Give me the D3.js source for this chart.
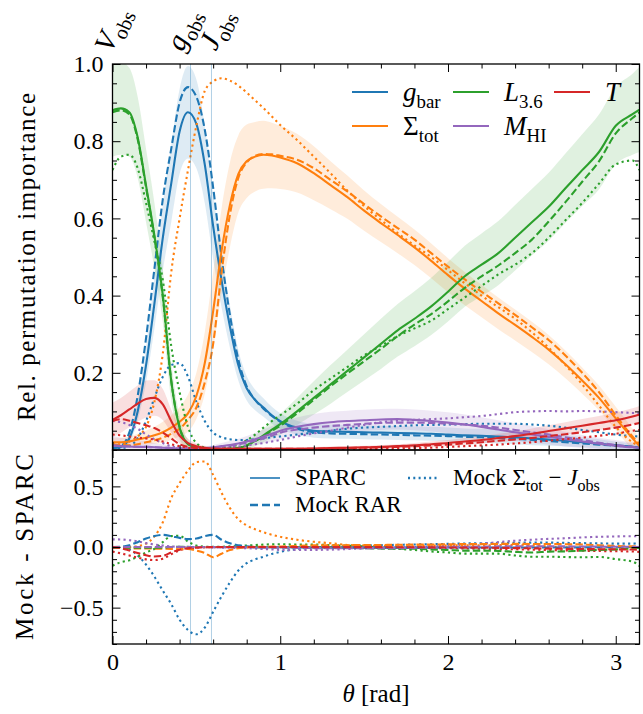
<!DOCTYPE html>
<html><head><meta charset="utf-8">
<script src="https://cdn.jsdelivr.net/npm/d3@7"></script>
<style>
body{margin:0;background:#fff;}
svg{display:block;font-family:"Liberation Serif","DejaVu Serif",serif;}
</style></head><body>
<svg id="chart" width="643" height="714"></svg>
<script>
// ---------------- data ----------------
const theta = [0,0.05,0.1,0.15,0.2,0.25,0.3,0.35,0.4,0.45,0.5,0.55,0.6,0.65,0.7,0.75,0.8,0.85,0.9,0.95,1.0,
  1.1,1.2,1.3,1.4,1.5,1.6,1.7,1.8,1.9,2.0,2.1,2.2,2.3,2.4,2.5,2.6,2.7,2.8,2.9,3.0,3.1,3.1416];

const gbarSparc = [0.005,0.008,0.03,0.1,0.22,0.38,0.55,0.69,0.825,0.875,0.845,0.74,0.58,0.44,0.32,0.22,0.16,0.13,0.11,0.09,0.075,
  0.058,0.05,0.048,0.047,0.046,0.045,0.044,0.043,0.042,0.04,0.038,0.037,0.035,0.033,0.03,0.027,0.024,0.02,0.016,0.012,0.008,0.006];
const gbarRAR = [0.005,0.01,0.045,0.14,0.29,0.47,0.65,0.78,0.9,0.94,0.915,0.83,0.68,0.5,0.35,0.235,0.165,0.13,0.107,0.088,0.073,
  0.055,0.046,0.043,0.042,0.041,0.04,0.039,0.038,0.037,0.036,0.034,0.033,0.031,0.029,0.026,0.023,0.02,0.017,0.014,0.011,0.008,0.006];
const gbarMock = [0.005,0.005,0.01,0.03,0.075,0.135,0.19,0.22,0.225,0.19,0.125,0.075,0.045,0.033,0.028,0.026,0.026,0.028,0.03,0.033,0.035,
  0.04,0.045,0.05,0.055,0.058,0.06,0.062,0.064,0.065,0.066,0.067,0.068,0.068,0.068,0.066,0.063,0.058,0.052,0.046,0.04,0.036,0.035];
const gbarErr = [0.004,0.006,0.012,0.025,0.045,0.065,0.085,0.1,0.11,0.12,0.115,0.1,0.085,0.07,0.055,0.04,0.032,0.027,0.024,0.022,0.02,
  0.018,0.018,0.018,0.018,0.018,0.018,0.018,0.018,0.018,0.018,0.018,0.018,0.018,0.018,0.018,0.016,0.015,0.013,0.012,0.01,0.008,0.007];

const sigmaSparc = [0.02,0.02,0.022,0.027,0.032,0.038,0.046,0.058,0.073,0.095,0.14,0.225,0.36,0.515,0.635,0.715,0.748,0.76,0.765,0.763,0.758,
  0.743,0.717,0.686,0.655,0.62,0.588,0.557,0.525,0.49,0.453,0.418,0.386,0.354,0.324,0.293,0.26,0.222,0.18,0.135,0.082,0.03,0.01];
const sigmaRAR = [0.015,0.013,0.012,0.015,0.02,0.025,0.032,0.042,0.055,0.078,0.11,0.175,0.275,0.46,0.61,0.705,0.745,0.762,0.767,0.766,0.762,
  0.752,0.73,0.7,0.67,0.637,0.605,0.575,0.545,0.51,0.475,0.442,0.41,0.38,0.35,0.318,0.285,0.245,0.2,0.15,0.09,0.035,0.015];
const sigmaMock = [0.015,0.015,0.022,0.035,0.06,0.125,0.25,0.46,0.6,0.725,0.84,0.93,0.955,0.963,0.957,0.944,0.926,0.906,0.886,0.864,0.842,
  0.803,0.76,0.717,0.672,0.632,0.596,0.562,0.53,0.5,0.466,0.432,0.4,0.37,0.34,0.305,0.265,0.22,0.17,0.115,0.06,0.02,0.01];
const sigmaErr = [0.012,0.012,0.013,0.015,0.018,0.022,0.027,0.032,0.038,0.048,0.06,0.08,0.1,0.11,0.11,0.1,0.095,0.09,0.088,0.085,0.082,
  0.076,0.07,0.062,0.056,0.052,0.049,0.047,0.046,0.045,0.044,0.043,0.042,0.041,0.04,0.039,0.038,0.036,0.034,0.032,0.03,0.025,0.02];

const lumSparc = [0.88,0.885,0.875,0.81,0.685,0.555,0.4,0.18,0.058,0.015,0.006,0.003,0.002,0.002,0.003,0.005,0.012,0.024,0.038,0.053,0.067,
  0.1,0.135,0.17,0.205,0.24,0.275,0.31,0.34,0.372,0.41,0.45,0.48,0.51,0.55,0.59,0.63,0.678,0.725,0.772,0.84,0.87,0.882];
const lumRAR = [0.875,0.88,0.87,0.805,0.68,0.55,0.395,0.18,0.06,0.016,0.006,0.003,0.002,0.002,0.003,0.005,0.012,0.023,0.036,0.05,0.063,
  0.095,0.13,0.165,0.198,0.23,0.262,0.295,0.325,0.352,0.385,0.42,0.45,0.478,0.51,0.545,0.592,0.642,0.695,0.748,0.82,0.86,0.875];
const lumMock = [0.725,0.76,0.765,0.73,0.64,0.54,0.44,0.27,0.15,0.06,0.018,0.006,0.003,0.004,0.008,0.014,0.025,0.04,0.058,0.075,0.09,
  0.12,0.155,0.185,0.215,0.245,0.27,0.295,0.315,0.335,0.365,0.395,0.425,0.455,0.48,0.51,0.55,0.595,0.64,0.69,0.74,0.75,0.725];
const lumErr = [0.12,0.12,0.115,0.105,0.095,0.085,0.07,0.05,0.03,0.012,0.005,0.003,0.003,0.003,0.004,0.006,0.01,0.014,0.018,0.022,0.027,
  0.035,0.043,0.05,0.055,0.06,0.065,0.068,0.071,0.074,0.077,0.079,0.081,0.083,0.085,0.086,0.088,0.09,0.093,0.097,0.1,0.105,0.11];

const himSparc = [0.012,0.01,0.009,0.008,0.008,0.007,0.006,0.005,0.004,0.004,0.004,0.005,0.007,0.01,0.013,0.017,0.022,0.028,0.035,0.042,0.05,
  0.06,0.067,0.072,0.075,0.077,0.079,0.08,0.078,0.075,0.071,0.066,0.06,0.053,0.046,0.04,0.034,0.028,0.022,0.016,0.011,0.007,0.006];
const himRAR = [0.012,0.01,0.009,0.008,0.008,0.007,0.006,0.005,0.004,0.004,0.004,0.005,0.006,0.009,0.011,0.015,0.019,0.024,0.03,0.037,0.045,
  0.053,0.058,0.062,0.065,0.068,0.07,0.071,0.071,0.07,0.068,0.066,0.063,0.058,0.052,0.046,0.04,0.033,0.026,0.019,0.013,0.008,0.006];
const himMock = [0.075,0.072,0.065,0.055,0.04,0.028,0.018,0.01,0.006,0.004,0.003,0.003,0.004,0.005,0.007,0.009,0.012,0.015,0.018,0.022,0.026,
  0.035,0.043,0.05,0.058,0.065,0.072,0.076,0.078,0.08,0.082,0.085,0.088,0.093,0.098,0.1,0.101,0.1,0.101,0.1,0.098,0.096,0.095];
const himErr = [0.025,0.022,0.02,0.017,0.014,0.011,0.008,0.006,0.005,0.004,0.004,0.005,0.006,0.008,0.01,0.012,0.014,0.016,0.018,0.02,0.022,
  0.024,0.026,0.027,0.027,0.027,0.027,0.027,0.027,0.027,0.027,0.026,0.025,0.024,0.023,0.022,0.02,0.019,0.017,0.016,0.015,0.013,0.012];

const tSparc = [0.078,0.09,0.105,0.12,0.132,0.135,0.118,0.075,0.037,0.018,0.01,0.006,0.004,0.003,0.003,0.003,0.003,0.003,0.003,0.003,0.003,
  0.003,0.004,0.005,0.006,0.007,0.008,0.01,0.012,0.015,0.018,0.022,0.026,0.031,0.036,0.042,0.049,0.056,0.063,0.07,0.077,0.087,0.092];
const tRAR = [0.075,0.08,0.076,0.07,0.064,0.057,0.045,0.03,0.015,0.008,0.005,0.004,0.003,0.003,0.003,0.003,0.003,0.003,0.003,0.003,0.003,
  0.003,0.003,0.004,0.005,0.006,0.007,0.008,0.01,0.012,0.014,0.017,0.02,0.024,0.027,0.031,0.036,0.041,0.046,0.052,0.058,0.066,0.07];
const tMock = [0.04,0.038,0.035,0.032,0.03,0.027,0.022,0.015,0.01,0.006,0.004,0.003,0.002,0.002,0.002,0.002,0.002,0.002,0.002,0.002,0.002,
  0.002,0.002,0.002,0.002,0.002,0.003,0.004,0.005,0.006,0.008,0.01,0.012,0.014,0.017,0.02,0.024,0.028,0.032,0.037,0.042,0.05,0.052];
const tErr = [0.045,0.045,0.046,0.047,0.048,0.046,0.04,0.03,0.02,0.012,0.007,0.005,0.004,0.004,0.004,0.004,0.004,0.004,0.004,0.004,0.004,
  0.004,0.004,0.004,0.004,0.004,0.005,0.005,0.006,0.007,0.008,0.009,0.01,0.011,0.012,0.014,0.015,0.016,0.017,0.018,0.02,0.021,0.022];

// reference angles (top axis)
const refAngles = [0, 0.465, 0.59];
const refNames = ["V", "g", "J"];
const xTickVals = [0, 1, 2, 3];
const yTopTicks = [0.2, 0.4, 0.6, 0.8, 1.0];
const yBotTicks = [-0.5, 0, 0.5];

// ---------------- layout ----------------
const svg = d3.select("#chart");
const L = 112.5, R = 639.5, T1 = 64, B1 = 450, B2 = 644;
const x = d3.scaleLinear().domain([0, Math.PI]).range([L, R]);
const yT = d3.scaleLinear().domain([0, 1]).range([B1, T1]);
const yB = d3.scaleLinear().domain([-0.8, 0.8]).range([B2, B1]);

const C = {blue:"#1f77b4", orange:"#ff7f0e", green:"#2ca02c", red:"#d62728", purple:"#9467bd"};
const vars = [
  {c:C.blue, s:gbarSparc, r:gbarRAR, m:gbarMock, e:gbarErr},
  {c:C.orange, s:sigmaSparc, r:sigmaRAR, m:sigmaMock, e:sigmaErr},
  {c:C.green, s:lumSparc, r:lumRAR, m:lumMock, e:lumErr},
  {c:C.purple, s:himSparc, r:himRAR, m:himMock, e:himErr},
  {c:C.red, s:tSparc, r:tRAR, m:tMock, e:tErr}
];
const DASH = "7.4,3.2", DOT = "2.2,3.3", LW = 2.1;

const defs = svg.append("defs");
defs.append("clipPath").attr("id","clipT").append("rect").attr("x",L).attr("y",T1).attr("width",R-L).attr("height",B1-T1);
defs.append("clipPath").attr("id","clipB").append("rect").attr("x",L).attr("y",B1).attr("width",R-L).attr("height",B2-B1);

const idx = d3.range(theta.length);

// ---------- top panel ----------
const gT = svg.append("g").attr("clip-path","url(#clipT)");
vars.forEach(v => {
  const area = d3.area().curve(d3.curveMonotoneX)
    .x(i => x(theta[i]))
    .y0(i => yT(Math.max(0, v.s[i] - v.e[i])))
    .y1(i => yT(v.s[i] + v.e[i]));
  gT.append("path").attr("d", area(idx)).attr("fill", v.c).attr("fill-opacity", 0.15).attr("stroke","none");
});
refAngles.slice(1).forEach(a => {
  svg.append("line").attr("x1",x(a)).attr("x2",x(a)).attr("y1",T1).attr("y2",B2)
    .attr("stroke","#1f77b4").attr("stroke-opacity",0.35).attr("stroke-width",1);
});
vars.forEach(v => {
  const mk = arr => d3.line().curve(d3.curveMonotoneX).x(i => x(theta[i])).y(i => yT(arr[i]))(idx);
  gT.append("path").attr("d", mk(v.s)).attr("fill","none").attr("stroke",v.c).attr("stroke-width",LW);
  gT.append("path").attr("d", mk(v.r)).attr("fill","none").attr("stroke",v.c).attr("stroke-width",LW).attr("stroke-dasharray",DASH);
  gT.append("path").attr("d", mk(v.m)).attr("fill","none").attr("stroke",v.c).attr("stroke-width",LW).attr("stroke-dasharray",DOT);
});

// ---------- bottom panel: Mock - SPARC ----------
const gB = svg.append("g").attr("clip-path","url(#clipB)");
vars.forEach(v => {
  const mk = arr => d3.line().curve(d3.curveMonotoneX).x(i => x(theta[i])).y(i => yB(arr[i] - v.s[i]))(idx);
  gB.append("path").attr("d", mk(v.m)).attr("fill","none").attr("stroke",v.c).attr("stroke-width",LW).attr("stroke-dasharray",DOT);
});
vars.forEach(v => {
  const mk = arr => d3.line().curve(d3.curveMonotoneX).x(i => x(theta[i])).y(i => yB(arr[i] - v.s[i]))(idx);
  gB.append("path").attr("d", mk(v.r)).attr("fill","none").attr("stroke",v.c).attr("stroke-width",LW).attr("stroke-dasharray",DASH);
});

// ---------- axes / ticks ----------
const MAJ = 8, MIN = 4.5;
function ticks(axisFn, scale, vals, len, tx, ty, fmt, fs){
  const a = axisFn(scale).tickValues(vals).tickSize(len).tickPadding(9)
    .tickFormat(fmt || (() => ""));
  const g = svg.append("g").attr("transform",`translate(${tx},${ty})`).call(a);
  g.select(".domain").remove();
  g.selectAll("line").attr("stroke","#000").attr("stroke-width",1);
  g.selectAll("text").attr("font-family","Liberation Serif").attr("font-size",fs||24).attr("fill","#000");
  return g;
}
const xMinor = d3.range(0, 3.15, 0.2).filter(t => Math.abs(t - Math.round(t)) > 1e-6);
const yTMinor = d3.range(0.05, 1.0, 0.05).filter(t => Math.abs(t*5 - Math.round(t*5)) > 1e-6);
const yBMinor = d3.range(-0.8, 0.81, 0.1).filter(t => Math.abs(Math.abs(t) - 0.5) > 1e-6 && Math.abs(t) > 1e-6);

ticks(d3.axisLeft, yT, yTopTicks, -MAJ, L, 0, d3.format(".1f"));
ticks(d3.axisLeft, yT, yTMinor, -MIN, L, 0);
ticks(d3.axisRight, yT, yTopTicks, -MAJ, R, 0);
ticks(d3.axisRight, yT, yTMinor, -MIN, R, 0);
ticks(d3.axisTop, x, xTickVals, -MAJ, 0, T1);
ticks(d3.axisTop, x, xMinor, -MIN, 0, T1);
ticks(d3.axisBottom, x, xTickVals, -MAJ, 0, B1);
ticks(d3.axisBottom, x, xMinor, -MIN, 0, B1);
ticks(d3.axisLeft, yB, yBotTicks, -MAJ, L, 0, d => d3.format(".1f")(d).replace("-", "\u2212"));
ticks(d3.axisLeft, yB, yBMinor, -MIN, L, 0);
ticks(d3.axisRight, yB, yBotTicks, -MAJ, R, 0);
ticks(d3.axisRight, yB, yBMinor, -MIN, R, 0);
ticks(d3.axisTop, x, xTickVals, -MAJ, 0, B1);
ticks(d3.axisTop, x, xMinor, -MIN, 0, B1);
ticks(d3.axisBottom, x, xTickVals, -MAJ, 0, B2, d3.format("d"));
ticks(d3.axisBottom, x, xMinor, -MIN, 0, B2);

svg.append("rect").attr("x",L).attr("y",T1).attr("width",R-L).attr("height",B1-T1).attr("fill","none").attr("stroke","#000").attr("stroke-width",1.3);
svg.append("rect").attr("x",L).attr("y",B1).attr("width",R-L).attr("height",B2-B1).attr("fill","none").attr("stroke","#000").attr("stroke-width",1.3);

// ---------- rich text helper ----------
function rich(sel, parts, size){
  let shift = 0;
  parts.forEach(([t,k]) => {
    const ts = sel.append("tspan").text(t);
    if (k === "s") {
      ts.attr("font-size", size*0.7);
      const target = size*0.25;
      if (target !== shift) ts.attr("dy", target - shift);
      shift = target;
    } else {
      if (shift) { ts.attr("dy", -shift); shift = 0; }
      if (k === "i") ts.attr("font-style","italic");
    }
  });
  return sel;
}

// top reference labels (rotated)
const refDx = [8, 1, 13];
refAngles.forEach((a, i) => {
  const g = svg.append("g").attr("transform", `translate(${x(a)+refDx[i]},33) rotate(-66)`);
  const t = g.append("text").attr("text-anchor","middle").attr("font-size",29);
  rich(t, [[refNames[i],"i"],["obs","s"]], 29);
});

// axis labels
svg.append("text").attr("transform",`translate(35,${(T1+B1)/2}) rotate(-90)`)
  .attr("text-anchor","middle").attr("font-size",25)
  .attr("textLength",328).attr("lengthAdjust","spacing")
  .text("Rel. permutation importance");
svg.append("text").attr("transform",`translate(33,${(B1+B2)/2}) rotate(-90)`)
  .attr("text-anchor","middle").attr("font-size",25)
  .attr("textLength",186).attr("lengthAdjust","spacing")
  .text("Mock - SPARC");
rich(svg.append("text").attr("x",(L+R)/2).attr("y",702).attr("text-anchor","middle").attr("font-size",25),
  [["\u03b8","i"],["\u00a0[rad]","n"]], 25);

// ---------- top legend ----------
const legTop = [
  {c:C.blue, col:0, row:0, p:[["g","i"],["bar","s"]]},
  {c:C.orange, col:0, row:1, p:[["\u03a3","n"],["tot","s"]]},
  {c:C.green, col:1, row:0, p:[["L","i"],["3.6","s"]]},
  {c:C.purple, col:1, row:1, p:[["M","i"],["HI","s"]]},
  {c:C.red, col:2, row:0, p:[["T","i"]]}
];
legTop.forEach(d => {
  const x0 = 352 + d.col*101, y0 = 92 + d.row*34;
  svg.append("line").attr("x1",x0).attr("x2",x0+36).attr("y1",y0).attr("y2",y0).attr("stroke",d.c).attr("stroke-width",LW);
  rich(svg.append("text").attr("x",x0+51).attr("y",y0+9).attr("font-size",27), d.p, 27);
});

// ---------- bottom legend ----------
const legBot = [
  {x0:250, y0:478, dash:null, p:[["SPARC","n"]]},
  {x0:250, y0:505, dash:DASH, p:[["Mock\u00a0RAR","n"]]},
  {x0:408, y0:478, dash:DOT, p:[["Mock\u00a0\u03a3","n"],["tot","s"],["\u00a0\u2212\u00a0","n"],["J","i"],["obs","s"]]}
];
legBot.forEach(d => {
  const ln = svg.append("line").attr("x1",d.x0).attr("x2",d.x0+30).attr("y1",d.y0).attr("y2",d.y0).attr("stroke",C.blue).attr("stroke-width",1.6);
  if (d.dash) ln.attr("stroke-dasharray", d.dash === DASH ? "8,4" : "2,3.3").attr("stroke-width", 2.4);
  rich(svg.append("text").attr("x",d.x0+45).attr("y",d.y0+7).attr("font-size",23), d.p, 23);
});
</script>
</body></html>
